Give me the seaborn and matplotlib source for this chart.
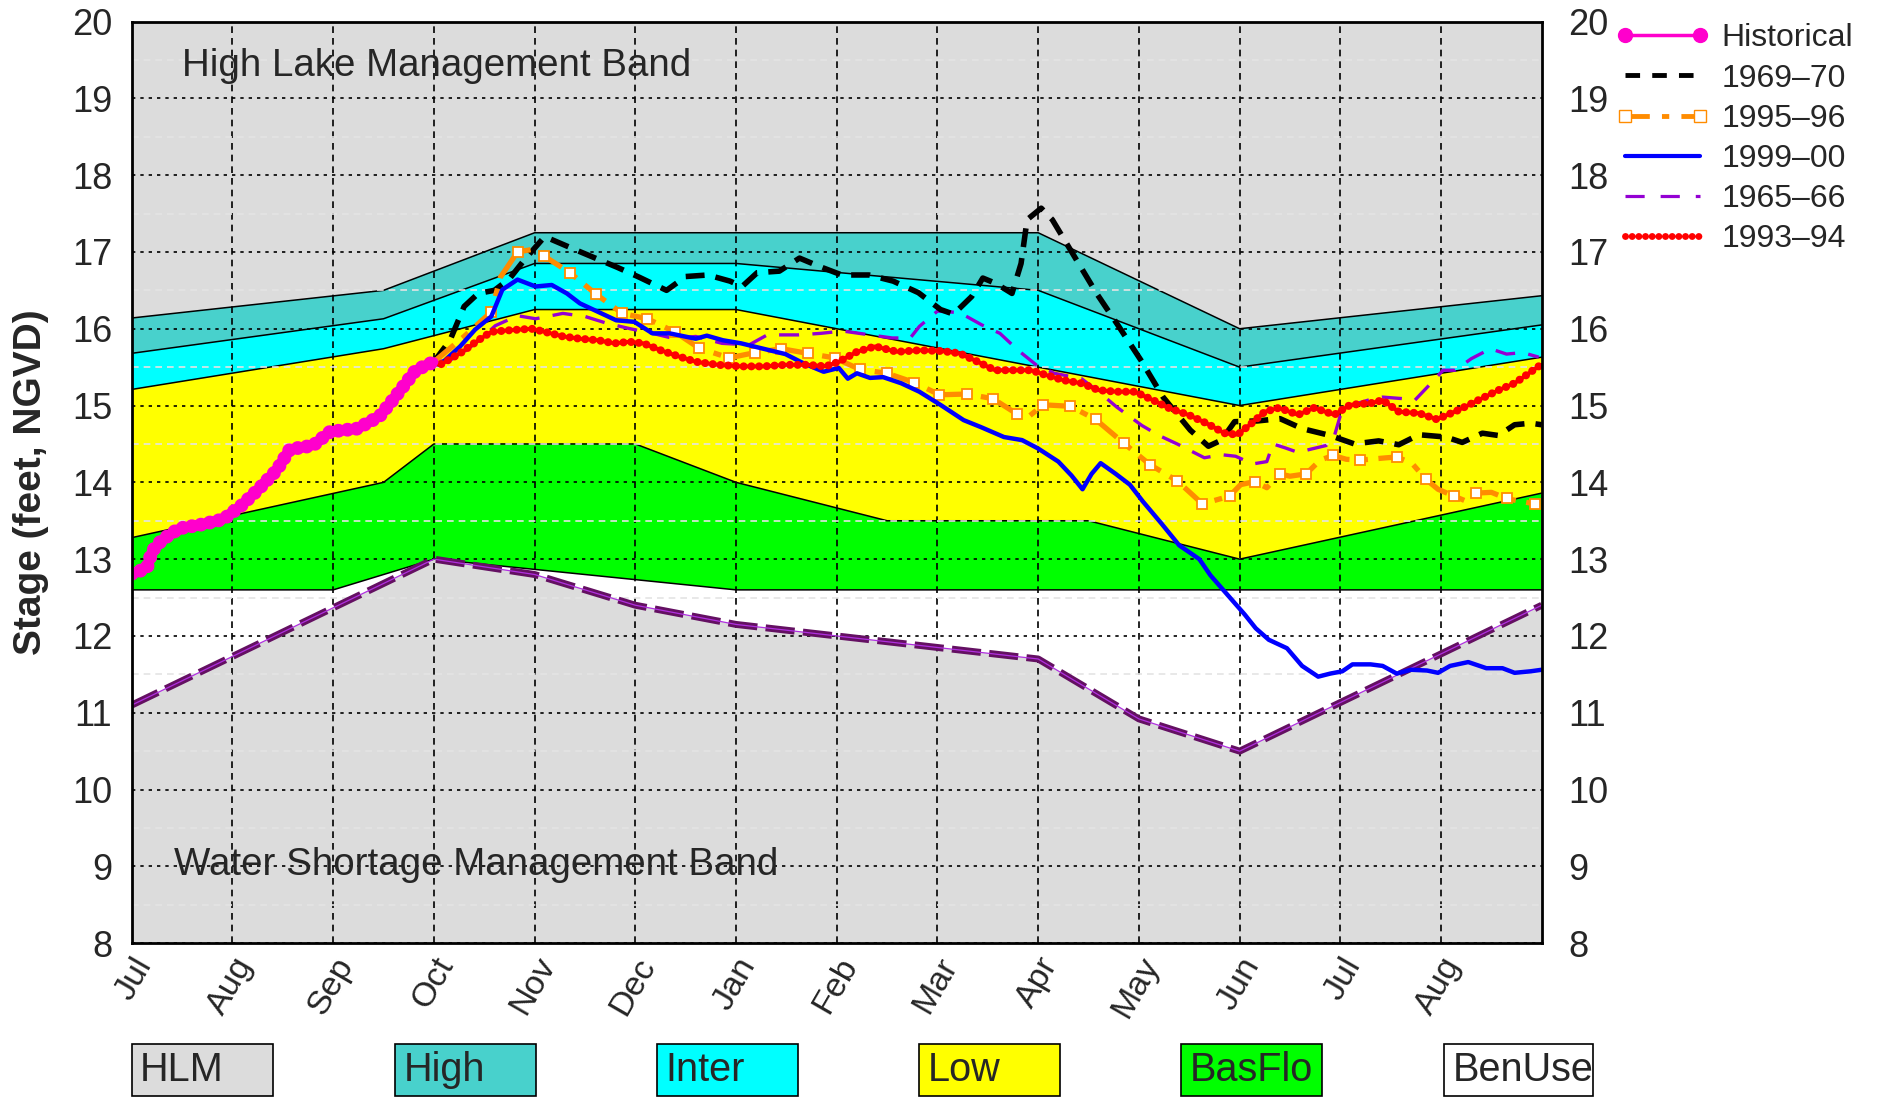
import numpy as np
import pandas as pd
import matplotlib
matplotlib.use("Agg")
import matplotlib.pyplot as plt
import matplotlib.transforms as mtransforms
from matplotlib.lines import Line2D
from matplotlib.patches import Rectangle
import seaborn as sns

# ---------------- data ----------------
month_labels = ["Jul", "Aug", "Sep", "Oct", "Nov", "Dec", "Jan", "Feb",
                "Mar", "Apr", "May", "Jun", "Jul", "Aug"]
stage_ticks = list(range(8, 21))

# band boundaries (x = months after Jul 1)
hlm_x = [0, 2.5, 4, 9, 11, 14]
hlm_y = [16.14, 16.5, 17.25, 17.25, 16.0, 16.43]
high_x = [0, 2.5, 4, 6, 9, 11, 14]
high_y = [15.68, 16.13, 16.85, 16.85, 16.5, 15.5, 16.05]
inter_x = [0, 2.5, 4, 6, 11, 14]
inter_y = [15.21, 15.74, 16.25, 16.25, 15.0, 15.63]
low_x = [0, 2.5, 3, 5, 6, 7.5, 9.5, 11, 14]
low_y = [13.28, 14.0, 14.5, 14.5, 14.0, 13.5, 13.5, 13.0, 13.86]
basflo_x = [0, 2, 3, 6, 14]
basflo_y = [12.6, 12.6, 13.0, 12.6, 12.6]
wsm_x = [0, 3, 4, 5, 6, 7, 8, 9, 10, 11, 14]
wsm_y = [11.1, 13.0, 12.8, 12.4, 12.15, 12.0, 11.85, 11.7, 10.92, 10.5, 12.4]

hist_x = [0, 0.15, 0.2, 0.3, 0.47, 0.69, 0.91, 1.09, 1.25, 1.44, 1.57, 1.8,
          1.97, 2.24, 2.46, 2.59, 2.82, 3.0]
hist_y = [12.81, 12.88, 13.1, 13.25, 13.4, 13.45, 13.52, 13.7, 13.9, 14.16,
          14.43, 14.48, 14.66, 14.7, 14.86, 15.07, 15.46, 15.57]

y6970_x = [3.0, 3.16, 3.3, 3.44, 3.6, 3.75, 3.9, 4.1, 4.42, 4.82, 5.04, 5.31,
           5.5, 5.72, 5.94, 6.06, 6.21, 6.43, 6.63, 6.83, 7.05, 7.32, 7.56,
           7.81, 8.03, 8.16, 8.34, 8.45, 8.58, 8.74, 8.83, 8.89, 9.03, 9.14,
           9.36, 9.58, 9.8, 10.02, 10.24, 10.51, 10.69, 10.82, 10.95, 11.18,
           11.4, 11.62, 11.9, 12.14, 12.38, 12.58, 12.78, 13.05, 13.21, 13.41,
           13.57, 13.73, 13.89, 14.0]
y6970_y = [15.57, 15.85, 16.29, 16.46, 16.5, 16.65, 16.9, 17.2, 17.02, 16.8,
           16.67, 16.5, 16.68, 16.7, 16.62, 16.55, 16.73, 16.75, 16.92, 16.81,
           16.7, 16.7, 16.62, 16.47, 16.25, 16.19, 16.42, 16.66, 16.59, 16.46,
           16.85, 17.42, 17.57, 17.42, 16.94, 16.46, 16.03, 15.59, 15.11,
           14.68, 14.47, 14.55, 14.79, 14.8, 14.83, 14.7, 14.61, 14.5, 14.54,
           14.49, 14.62, 14.59, 14.52, 14.64, 14.61, 14.75, 14.77, 14.75]

y9596_x = [3.0, 3.3, 3.57, 3.66, 3.83, 4.01, 4.09, 4.35, 4.61, 4.87, 5.12,
           5.39, 5.63, 5.93, 6.19, 6.45, 6.71, 6.98, 7.23, 7.5, 7.77, 8.02,
           8.29, 8.55, 8.79, 8.89, 9.05, 9.32, 9.57, 9.85, 10.11, 10.38,
           10.63, 10.9, 11.01, 11.15, 11.27, 11.4, 11.5, 11.66, 11.8, 11.93,
           12.06, 12.2, 12.46, 12.56, 12.71, 12.85, 12.97, 13.13, 13.24,
           13.35, 13.5, 13.65, 13.76, 13.93]
y9596_y = [15.57, 15.9, 16.22, 16.67, 17.0, 17.04, 16.95, 16.73, 16.45, 16.2,
           16.13, 15.96, 15.75, 15.62, 15.69, 15.74, 15.68, 15.62, 15.47,
           15.42, 15.3, 15.14, 15.15, 15.09, 14.89, 14.84, 15.01, 14.99,
           14.82, 14.51, 14.23, 14.02, 13.72, 13.82, 13.97, 14.01, 13.93,
           14.11, 14.08, 14.11, 14.29, 14.35, 14.3, 14.29, 14.32, 14.33,
           14.25, 14.04, 13.91, 13.82, 13.76, 13.86, 13.87, 13.79, 13.76,
           13.72]
y9596_marks = [2, 4, 6, 7, 8, 9, 10, 11, 12, 13, 14, 15, 16, 17, 18, 19, 20,
               21, 22, 23, 24, 26, 27, 28, 29, 30, 31, 32, 33, 35, 37, 39,
               41, 43, 45, 47, 49, 51, 53, 55]

y9900_x = [3.0, 3.06, 3.26, 3.41, 3.57, 3.68, 3.83, 4.01, 4.17, 4.32, 4.45,
           4.63, 4.81, 4.99, 5.17, 5.34, 5.6, 5.71, 5.87, 6.05, 6.27, 6.49,
           6.67, 6.87, 7.02, 7.11, 7.2, 7.33, 7.46, 7.64, 7.82, 8.04, 8.26,
           8.43, 8.66, 8.84, 9.0, 9.2, 9.33, 9.44, 9.53, 9.62, 9.77, 9.91,
           10.04, 10.22, 10.4, 10.6, 10.71, 10.89, 11.05, 11.16, 11.29, 11.47,
           11.62, 11.78, 11.9, 12.02, 12.12, 12.3, 12.42, 12.56, 12.7, 12.86,
           12.97, 13.09, 13.27, 13.45, 13.61, 13.73, 13.89, 14.0]
y9900_y = [15.55, 15.53, 15.77, 15.99, 16.16, 16.51, 16.64, 16.55, 16.57,
           16.46, 16.33, 16.22, 16.11, 16.09, 15.94, 15.94, 15.87, 15.91,
           15.85, 15.81, 15.74, 15.67, 15.55, 15.44, 15.49, 15.35, 15.42,
           15.36, 15.37, 15.29, 15.18, 15.0, 14.81, 14.72, 14.59, 14.55,
           14.44, 14.27, 14.09, 13.91, 14.11, 14.25, 14.11, 13.97, 13.75,
           13.47, 13.18, 13.0, 12.79, 12.52, 12.28, 12.1, 11.95, 11.84, 11.61,
           11.47, 11.51, 11.54, 11.63, 11.63, 11.61, 11.51, 11.56, 11.55,
           11.52, 11.61, 11.66, 11.58, 11.58, 11.52, 11.54, 11.56]

y6566_x = [3.0, 3.16, 3.3, 3.45, 3.61, 3.83, 4.01, 4.28, 4.5, 4.72, 4.95,
           5.17, 5.39, 5.6, 5.86, 6.13, 6.31, 6.62, 6.84, 7.06, 7.33, 7.55,
           7.73, 7.82, 8.0, 8.22, 8.44, 8.62, 8.8, 8.98, 9.16, 9.43, 9.6,
           9.78, 10.03, 10.2, 10.38, 10.56, 10.65, 10.82, 10.96, 11.13, 11.27,
           11.33, 11.45, 11.58, 11.7, 11.86, 11.94, 12.0, 12.1, 12.3, 12.42,
           12.62, 12.74, 12.9, 13.02, 13.14, 13.3, 13.49, 13.65, 13.81, 13.97]
y6566_y = [15.57, 15.59, 15.7, 15.85, 16.04, 16.17, 16.13, 16.2, 16.16, 16.07,
           16.0, 15.94, 15.87, 15.9, 15.81, 15.79, 15.92, 15.92, 15.94, 15.97,
           15.92, 15.88, 15.88, 16.03, 16.23, 16.21, 16.05, 15.94, 15.72,
           15.53, 15.42, 15.35, 15.18, 14.98, 14.74, 14.61, 14.5, 14.38,
           14.32, 14.36, 14.34, 14.24, 14.27, 14.5, 14.45, 14.39, 14.43,
           14.48, 14.6, 14.87, 15.0, 15.08, 15.11, 15.09, 15.07, 15.29, 15.46,
           15.46, 15.61, 15.74, 15.67, 15.69, 15.63]

y9394_x = [3.0, 3.06, 3.26, 3.44, 3.57, 3.75, 3.97, 4.1, 4.28, 4.45, 4.63,
           4.79, 4.94, 5.08, 5.25, 5.43, 5.6, 5.82, 6.05, 6.27, 6.49, 6.71,
           6.89, 7.02, 7.2, 7.38, 7.6, 7.82, 8.04, 8.22, 8.4, 8.57, 8.75,
           8.93, 9.07, 9.25, 9.43, 9.6, 9.78, 9.96, 10.14, 10.31, 10.49,
           10.67, 10.85, 10.98, 11.12, 11.25, 11.39, 11.58, 11.74, 11.94,
           12.1, 12.3, 12.42, 12.58, 12.78, 12.96, 13.17, 13.37, 13.57, 13.73,
           13.85, 13.99]
y9394_y = [15.55, 15.53, 15.68, 15.85, 15.96, 15.98, 16.0, 15.96, 15.9, 15.87,
           15.85, 15.81, 15.83, 15.81, 15.72, 15.64, 15.57, 15.53, 15.51,
           15.51, 15.53, 15.53, 15.51, 15.57, 15.7, 15.77, 15.7, 15.72, 15.71,
           15.68, 15.57, 15.46, 15.46, 15.46, 15.4, 15.33, 15.29, 15.2, 15.18,
           15.18, 15.07, 14.96, 14.88, 14.77, 14.64, 14.62, 14.77, 14.92,
           14.97, 14.88, 14.97, 14.88, 15.01, 15.03, 15.07, 14.92, 14.9,
           14.82, 14.94, 15.07, 15.2, 15.29, 15.4, 15.53]

box_labels = ["HLM", "High", "Inter", "Low", "BasFlo", "BenUse"]
band_colors = ["#DCDCDC", "#48D1CC", "#00FFFF", "#FFFF00", "#00FF00", "#FFFFFF"]

# ---------------- style ----------------
sns.set_theme(style="white")
plt.rcParams["font.family"] = ["Liberation Sans", "DejaVu Sans"]
plt.rcParams["axes.unicode_minus"] = False

fig = plt.figure(figsize=(18.77, 10.99), dpi=100)
ax = fig.add_axes([0.0702, 0.1418, 0.7512, 0.8386])
ax.set_facecolor("white")
ax.set_xlim(0, 14)
ax.set_ylim(8, 20)


def band(xt, yt, xb, yb, color, z=0.5):
    xs = list(xt) + list(xb)[::-1]
    ys = list(yt) + list(yb)[::-1]
    ax.fill(xs, ys, facecolor=color, edgecolor="none", zorder=z)


band([0, 14], [20, 20], hlm_x, hlm_y, band_colors[0])
band(hlm_x, hlm_y, high_x, high_y, band_colors[1])
band(high_x, high_y, inter_x, inter_y, band_colors[2])
band(inter_x, inter_y, low_x, low_y, band_colors[3])
band(low_x, low_y, basflo_x, basflo_y, band_colors[4])
band(wsm_x, wsm_y, [0, 14], [8, 8], band_colors[0])
for bx, by in [(hlm_x, hlm_y), (high_x, high_y), (inter_x, inter_y),
               (low_x, low_y), (basflo_x, basflo_y)]:
    ax.plot(bx, by, color="black", lw=1.1, zorder=1)

# grids
ax.set_xticks(range(14))
ax.set_yticks(stage_ticks)
ax.set_yticks(np.arange(8.5, 20, 1.0), minor=True)
ax.set_axisbelow(False)
ax.yaxis.grid(True, which="major", color="black", ls=(0, (2, 3)), lw=1.2)
ax.yaxis.grid(True, which="minor", color="#E4E4E4", ls=(0, (4, 3)), lw=1.2)
ax.xaxis.grid(True, which="major", color="black", ls=(0, (4, 3)), lw=1.2)

# WSM line
sns.lineplot(x=wsm_x, y=wsm_y, ax=ax, color="#641062", lw=5.0,
             linestyle=(0, (4.2, 1.2)), sort=False, estimator=None,
             errorbar=None, zorder=3)
ax.plot(wsm_x, wsm_y, color="#B030E0", lw=0.9, zorder=3.1)

# series
sns.lineplot(x=y6566_x, y=y6566_y, ax=ax, color="#9400D3", lw=2.4,
             linestyle=(0, (6, 4)), sort=False, estimator=None, errorbar=None,
             zorder=4)
sns.lineplot(x=y6970_x, y=y6970_y, ax=ax, color="black", lw=4.0,
             linestyle=(0, (3.4, 2.0)), sort=False, estimator=None,
             errorbar=None, zorder=4.2)
ax.plot(y9596_x, y9596_y, color="#FF8C00", lw=3.8,
        ls=(0, (5, 2, 1.5, 2)), marker="s", markersize=7.5,
        markerfacecolor="white", markeredgecolor="#FF8C00",
        markeredgewidth=1.3, markevery=y9596_marks, zorder=4.4)
sns.lineplot(x=y9900_x, y=y9900_y, ax=ax, color="#0000FF", lw=3.2,
             sort=False, estimator=None, errorbar=None, zorder=4.6)
ax.plot(y9394_x, y9394_y, color="#FF0000", lw=2.8, zorder=4.8)
ax.plot(y9394_x, y9394_y, color="#FF0000", lw=5.8, ls=(0, (0.01, 0.95)),
        dash_capstyle="round", zorder=4.81)
ax.plot(hist_x, hist_y, color="#FF00CC", lw=6.5, zorder=5)
ax.plot(hist_x, hist_y, color="#FF00CC", lw=10, ls=(0, (0.01, 0.65)),
        dash_capstyle="round", zorder=5.1)

# annotations
ax.text(0.5, 19.42, "High Lake Management Band", fontsize=27.7,
        ha="left", va="center", zorder=6)
ax.text(0.42, 9.02, "Water Shortage Management Band", fontsize=27.7,
        ha="left", va="center", zorder=6)

# ticks
ax.tick_params(axis="both", which="both", length=0)
ax.set_xticklabels(month_labels, rotation=60, ha="right", va="center",
                   rotation_mode="anchor", fontsize=24.5)
ax.tick_params(axis="x", pad=12)
offset = mtransforms.ScaledTranslation(0.13, 0, fig.dpi_scale_trans)
for lab in ax.get_xticklabels():
    lab.set_transform(lab.get_transform() + offset)
ax.set_yticklabels([str(v) for v in stage_ticks], fontsize=26)
ax.tick_params(axis="y", pad=14)
ax.set_xlabel("")
ax.set_ylabel("Stage (feet, NGVD)", fontsize=28, fontweight="bold")
ax.yaxis.set_label_coords(-0.059, 0.5)
for s in ax.spines.values():
    s.set_color("black")
    s.set_linewidth(2.0)
    s.set_zorder(7)

ax2 = ax.twinx()
ax2.set_ylim(8, 20)
ax2.set_yticks(stage_ticks)
ax2.set_yticklabels([str(v) for v in stage_ticks], fontsize=26)
ax2.tick_params(axis="y", length=0, pad=19)
ax2.grid(False)
for s in ax2.spines.values():
    s.set_visible(False)

# legend
handles = [
    Line2D([0, 1], [0, 0], color="#FF00CC", lw=2.5, marker="o", markersize=10),
    Line2D([0, 1], [0, 0], color="black", lw=3.5, ls=(0, (3.0, 2.5))),
    Line2D([0, 1], [0, 0], color="#FF8C00", lw=3.5, ls=(0, (5, 2.5, 1.5, 2.5)),
           marker="s", markersize=8, markerfacecolor="white",
           markeredgecolor="#FF8C00"),
    Line2D([0, 1], [0, 0], color="#0000FF", lw=3.0),
    Line2D([0, 1], [0, 0], color="#9400D3", lw=2.3, ls=(0, (6, 5))),
    Line2D([0, 1], [0, 0], color="#FF0000", lw=5.0, ls=(0, (0.01, 0.95)),
           dash_capstyle="round"),
]
labels = ["Historical", "1969\u201370", "1995\u201396", "1999\u201300",
          "1965\u201366", "1993\u201394"]
leg = ax2.legend(handles, labels, loc="upper left",
                 bbox_to_anchor=(1.0525, 0.998),
                 frameon=False, fontsize=23, handlelength=2.95,
                 handletextpad=0.35, labelspacing=0.32, borderaxespad=0,
                 borderpad=0, numpoints=2)

# bottom band key
box_left = [0.0702, 0.2104, 0.3500, 0.4896, 0.6292, 0.7693]
box_w = [0.0751, 0.0751, 0.0751, 0.0751, 0.0751, 0.0794]
for lbl, col, bl, bw in zip(box_labels, band_colors, box_left, box_w):
    fig.add_artist(Rectangle((bl, 0.003), bw, 0.047, transform=fig.transFigure,
                             facecolor=col, edgecolor="black", lw=1.2))
    fig.text(bl + 0.0045, 0.0265, lbl, fontsize=28.5, ha="left", va="center")

fig.savefig("out.png", dpi=100)
